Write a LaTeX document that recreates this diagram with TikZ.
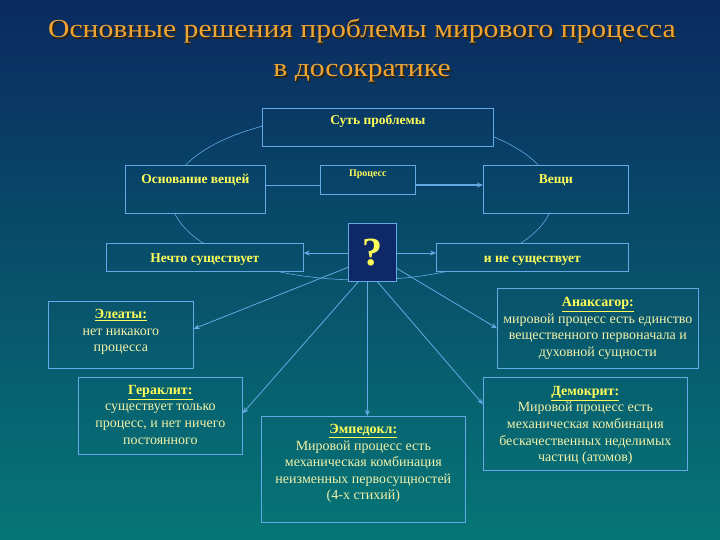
\documentclass[tikz,border=0pt]{standalone}
\usepackage{fontspec}
\setmainfont{Liberation Serif}
\newfontfamily\ttlfont[FakeStretch=1.14]{Liberation Serif}
\usetikzlibrary{arrows.meta,calc}
\definecolor{bgtop}{RGB}{10,42,96}
\definecolor{bgbot}{RGB}{6,118,118}
\definecolor{edge}{RGB}{100,170,230}
\definecolor{qfill}{RGB}{14,40,104}
\definecolor{hy}{RGB}{255,255,90}
\definecolor{bodyc}{RGB}{242,242,170}
\definecolor{ttl}{RGB}{240,165,50}
\begin{document}
\begin{tikzpicture}[x=1pt,y=-1pt,
  box/.style={draw=edge, line width=0.7pt, anchor=north west, inner sep=0pt},
  lbl/.style={text=hy, font=\bfseries\fontsize{13.5}{15}\selectfont, anchor=base, inner sep=0pt},
  txt/.style={text=bodyc, font=\fontsize{14}{16.6}\selectfont, align=center, anchor=north, inner sep=0pt},
  ttlstyle/.style={font=\ttlfont\fontsize{26}{30}\selectfont, anchor=base, inner sep=0pt},
  conn/.style={draw=edge, line width=0.8pt},
  arr/.style={conn, -{Stealth[length=6pt,width=5pt]}},
]
\shade[top color=bgtop, bottom color=bgbot] (0,0) rectangle (720,540);
\useasboundingbox (0,0) rectangle (720,540);

% title
\node[ttlstyle, text=black!80!ttl] at (363.5,39.5) {Основные решения проблемы мирового процесса};
\node[ttlstyle, text=ttl] (t1) at (362,38) {Основные решения проблемы мирового процесса};
\node[ttlstyle, text=black!80!ttl] at (363.5,78.5) {в досократике};
\node[ttlstyle, text=ttl] (t2) at (362,77) {в досократике};

% upper boxes
\node[box, minimum width=231pt, minimum height=38pt] (sut) at (262,108) {};
\node[box, minimum width=140pt, minimum height=48pt] (osn) at (125,165) {};
\node[box, minimum width=95pt, minimum height=29pt] (proc) at (320,165) {};
\node[box, minimum width=145pt, minimum height=48pt] (vesh) at (483,165) {};
\node[box, minimum width=197pt, minimum height=28pt] (nechto) at (106,243) {};
\node[box, minimum width=192pt, minimum height=28pt] (ine) at (436,243) {};
\node[box, fill=qfill, minimum width=48pt, minimum height=58pt, text=hy,
      font=\bfseries\fontsize{40}{40}\selectfont] (q) at (348,223) {?};

\node[lbl] at ($(sut.north)+(0,17)$) {Суть проблемы};
\node[lbl] at ($(osn.north)+(0,19)$) {Основание вещей};
\node[lbl, font=\bfseries\fontsize{10}{12}\selectfont] at ($(proc.north)+(0,12)$) {Процесс};
\node[lbl] at ($(vesh.north)+(0,19)$) {Вещи};
\node[lbl] at ($(nechto.north)+(0,19)$) {Нечто существует};
\node[lbl] at ($(ine.north)+(0,19)$) {и не существует};

% lower boxes
\node[box, minimum width=145pt, minimum height=67pt] (el) at (48,301) {};
\node[box, minimum width=164pt, minimum height=77pt] (ger) at (78,377) {};
\node[box, minimum width=204pt, minimum height=106pt] (emp) at (261,416) {};
\node[box, minimum width=201pt, minimum height=80pt] (anx) at (497,288) {};
\node[box, minimum width=204pt, minimum height=93pt] (dem) at (483,377) {};

\newcommand{\hd}[1]{\textbf{\color{hy}\underline{#1}}}
\node[txt] at ($(el.north)+(0,8)$) {\hd{Элеаты:}\\нет никакого\\процесса};
\node[txt] at ($(ger.north)+(0,8)$) {\hd{Гераклит:}\\существует только\\процесс, и нет ничего\\постоянного};
\node[txt] at ($(emp.north)+(0,8)$) {\hd{Эмпедокл:}\\Мировой процесс есть\\механическая комбинация\\неизменных первосущностей\\(4-х стихий)};
\node[txt] at ($(anx.north)+(0,9)$) {\hd{Анаксагор:}\\мировой процесс есть единство\\вещественного первоначала и\\духовной сущности};
\node[txt] at ($(dem.north)+(0,9)$) {\hd{Демокрит:}\\Мировой процесс есть\\механическая комбинация\\бескачественных неделимых\\частиц (атомов)};

% ellipse, hidden behind boxes
\begin{scope}[even odd rule]
\clip (0,0) rectangle (720,540)
  (sut.north west) rectangle (sut.south east)
  (osn.north west) rectangle (osn.south east)
  (vesh.north west) rectangle (vesh.south east)
  (nechto.north west) rectangle (nechto.south east)
  (ine.north west) rectangle (ine.south east)
  (q.north west) rectangle (q.south east);
\draw[conn, line width=0.6pt] (362,197) ellipse [x radius=191, y radius=83];
\end{scope}

% connectors
\draw[conn] (osn.east |- 0,185) -- (proc.west |- 0,185);
\draw[arr, line width=1.6pt] (proc.east |- 0,185) -- (vesh.west |- 0,185);
\draw[arr] (q.west |- 0,253) -- (nechto.east |- 0,253);
\draw[arr] (q.east |- 0,253) -- (ine.west |- 0,253);
\draw[arr] ($(q.west)+(0,15)$) -- ($(el.east)+(0,-6)$);
\draw[arr] ($(q.south)+(-14,0)$) -- ($(ger.east)+(0,-2.5)$);
\coordinate (qs) at ($(q.south)+(-5,0)$);
\draw[arr] (qs) -- (qs |- emp.north);
\draw[arr] ($(q.south)+(5,0)$) -- ($(dem.west)+(0,-19.5)$);
\draw[arr] ($(q.east)+(0,16)$) -- (anx.west);
\end{tikzpicture}
\end{document}
